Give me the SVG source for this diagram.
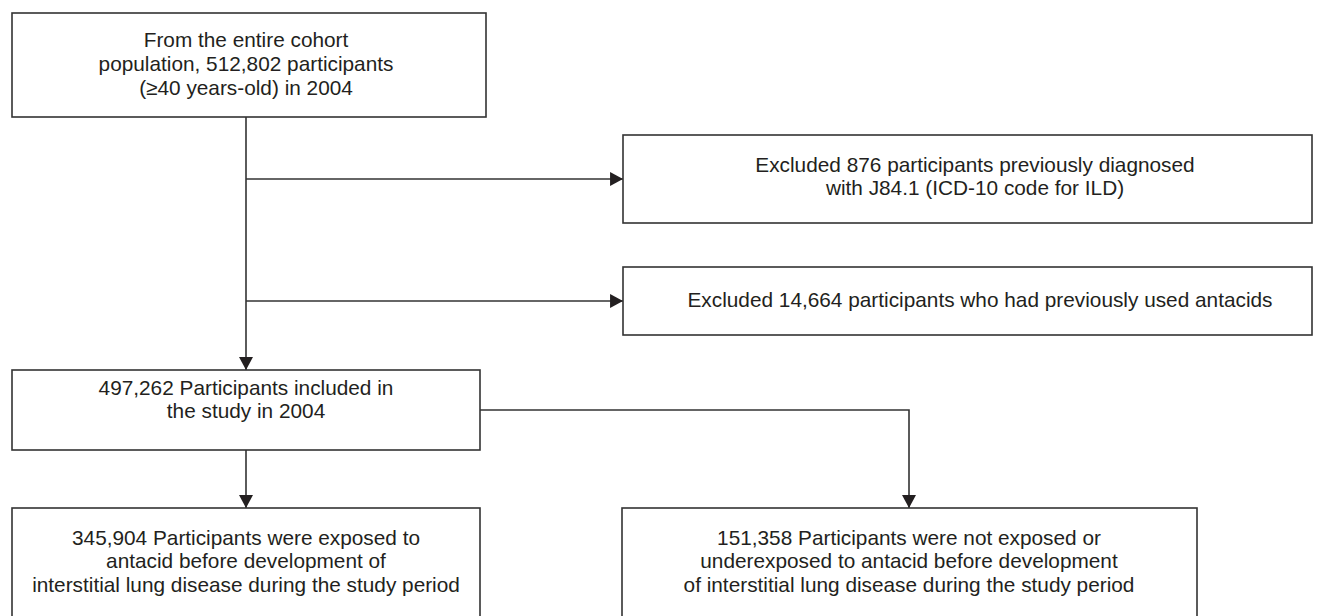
<svg xmlns="http://www.w3.org/2000/svg" width="1324" height="616" viewBox="0 0 1324 616">
<style>
.box{fill:#fff;stroke:#333;stroke-width:1.6}
.t{font-family:"Liberation Sans",Arial,sans-serif;font-size:20.8px;fill:#231f20;text-anchor:middle}
.c{fill:none;stroke:#333;stroke-width:1.6}
</style>
<defs>
<marker id="ah" markerUnits="userSpaceOnUse" markerWidth="14" markerHeight="14" viewBox="0 0 12 13" refX="12" refY="6.5" orient="auto">
<path d="M0,0 L12,6.5 L0,13 Z" fill="#231f20"/>
</marker>
</defs>
<rect width="1324" height="616" fill="#fff"/>
<g id="connectors">
<line class="c" x1="246" y1="117" x2="246" y2="370" marker-end="url(#ah)"/>
<line class="c" x1="246" y1="179" x2="623" y2="179" marker-end="url(#ah)"/>
<line class="c" x1="246" y1="301" x2="623" y2="301" marker-end="url(#ah)"/>
<line class="c" x1="246" y1="450" x2="246" y2="508" marker-end="url(#ah)"/>
<polyline class="c" points="480,410 909,410 909,508" marker-end="url(#ah)"/>
</g>
<g id="n-cohort">
<rect class="box" x="12" y="13" width="474" height="104"/>
<text class="t" x="246" y="47">From the entire cohort</text>
<text class="t" x="246" y="71">population, 512,802 participants</text>
<text class="t" x="246" y="95">(≥40 years-old) in 2004</text>
</g>
<g id="n-excl1">
<rect class="box" x="623" y="135" width="689" height="88"/>
<text class="t" x="975" y="172">Excluded 876 participants previously diagnosed</text>
<text class="t" x="975" y="195">with J84.1 (ICD-10 code for ILD)</text>
</g>
<g id="n-excl2">
<rect class="box" x="623" y="267" width="689" height="68"/>
<text class="t" x="980" y="307">Excluded 14,664 participants who had previously used antacids</text>
</g>
<g id="n-included">
<rect class="box" x="12" y="370" width="468" height="80"/>
<text class="t" x="246" y="395">497,262 Participants included in</text>
<text class="t" x="246" y="418">the study in 2004</text>
</g>
<g id="n-exposed">
<rect class="box" x="12" y="508" width="468" height="112"/>
<text class="t" x="246" y="545">345,904 Participants were exposed to</text>
<text class="t" x="246" y="568">antacid before development of</text>
<text class="t" x="246" y="592">interstitial lung disease during the study period</text>
</g>
<g id="n-unexposed">
<rect class="box" x="622" y="508" width="575" height="112"/>
<text class="t" x="909" y="545">151,358 Participants were not exposed or</text>
<text class="t" x="909" y="568">underexposed to antacid before development</text>
<text class="t" x="909" y="592">of interstitial lung disease during the study period</text>
</g>
</svg>
